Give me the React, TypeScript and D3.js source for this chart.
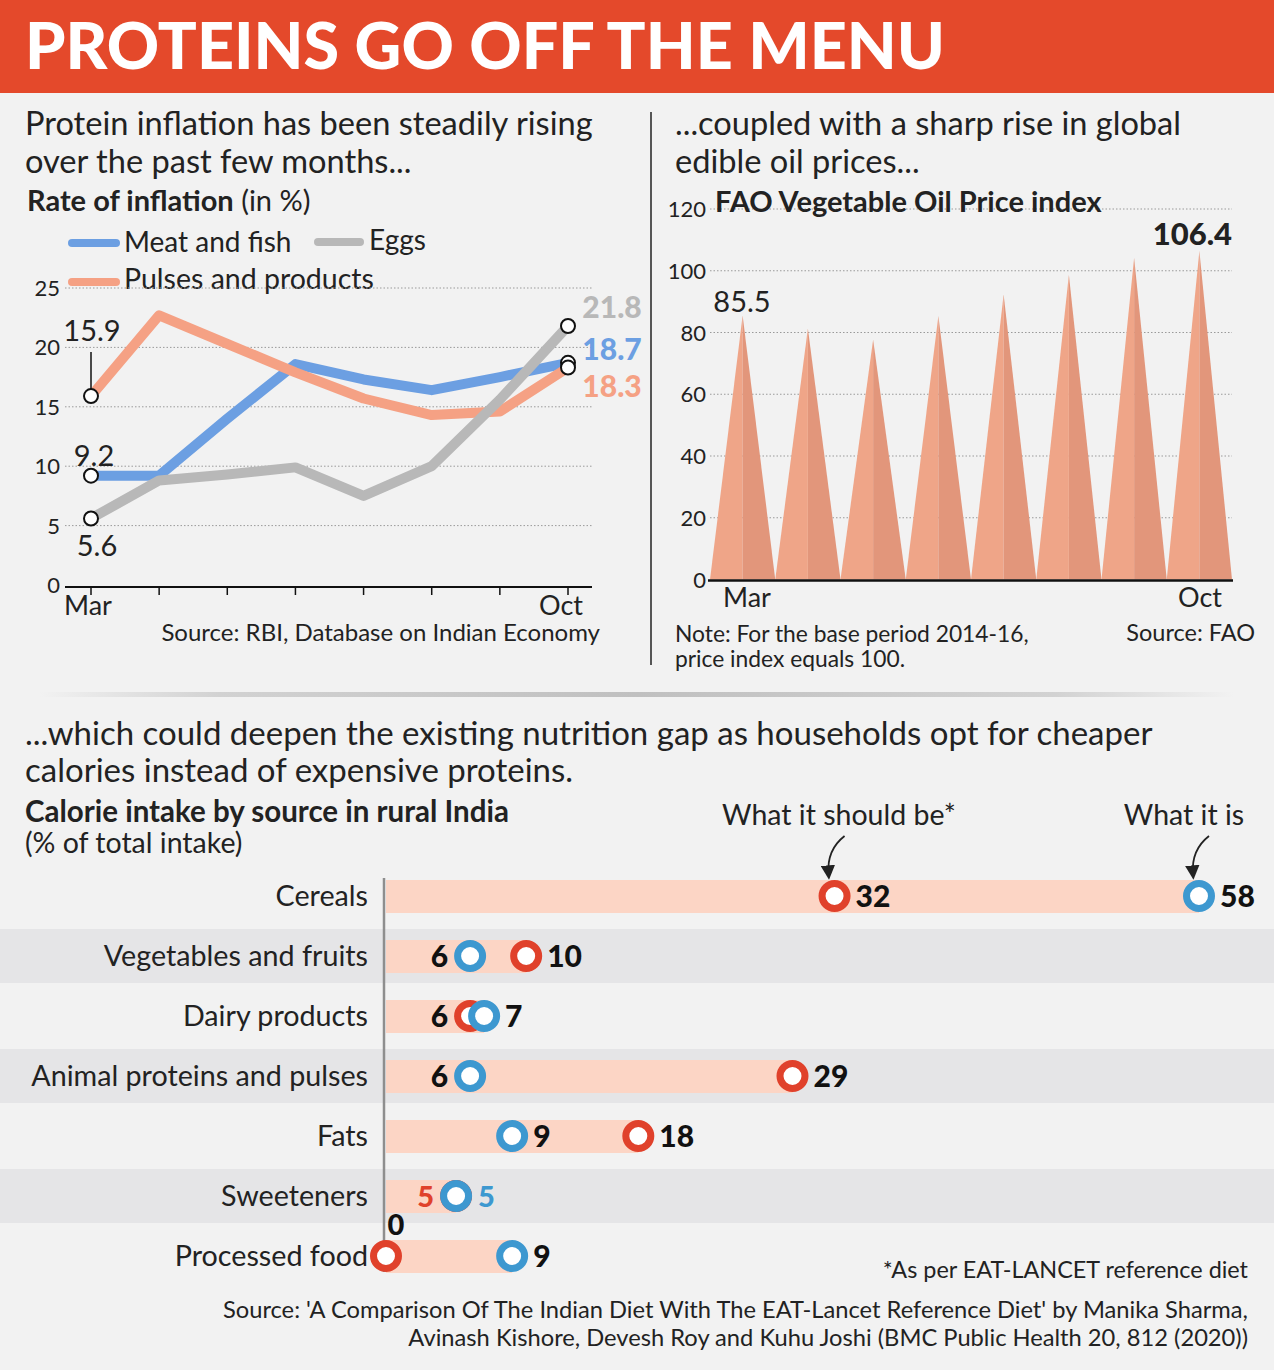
import React from "react";
import * as d3 from "d3";

// ---------- DATA ----------
const months = ["Mar", "Apr", "May", "Jun", "Jul", "Aug", "Sep", "Oct"];
const meatFish = [9.2, 9.2, 14.0, 18.6, 17.3, 16.4, 17.5, 18.7];
const pulses = [15.9, 22.7, 20.3, 17.9, 15.7, 14.3, 14.6, 18.3];
const eggs = [5.6, 8.8, 9.3, 9.9, 7.5, 10.0, 15.6, 21.8];
const inflationTicks = [0, 5, 10, 15, 20, 25];

const oilIndex = [85.5, 81.3, 77.7, 85.4, 92.3, 98.7, 104.2, 106.4];
const oilTicks = [0, 20, 40, 60, 80, 100, 120];

const foodCategories = [
  "Cereals",
  "Vegetables and fruits",
  "Dairy products",
  "Animal proteins and pulses",
  "Fats",
  "Sweeteners",
  "Processed food",
];
const shouldBe = [32, 10, 6, 29, 18, 5, 0];
const whatItIs = [58, 6, 7, 6, 9, 5, 9];

// ---------- STYLE ----------
const FONT = "Lato, 'Open Sans', sans-serif";
const BG = "#f2f2f2";
const BLUE = "#6c9fe2";
const ORANGE = "#f5a184";
const GRAY = "#b8b8b8";
const RED_DOT = "#e0412b";
const BLUE_DOT = "#3d98d0";

export default function App() {
  // ----- left line chart -----
  const xL = d3.scalePoint<string>().domain(months).range([91, 568]);
  const yL = d3.scaleLinear().domain([0, 25]).range([585, 288]);
  const line = d3
    .line<number>()
    .x((_, i) => xL(months[i]) as number)
    .y((d) => yL(d));

  // ----- right triangle chart -----
  const xR = d3.scaleBand<string>().domain(months).range([710, 1232]).padding(0);
  const yR = d3.scaleLinear().domain([0, 120]).range([579.5, 209]);

  // ----- bottom dot chart -----
  const xB = d3.scaleLinear().domain([0, 58]).range([386, 1199]);
  const yB = d3.scaleBand<string>().domain(foodCategories).range([866, 1286]);
  const rowC = (c: string) => (yB(c) as number) + yB.bandwidth() / 2;

  const series = [
    { vals: meatFish, color: BLUE },
    { vals: pulses, color: ORANGE },
    { vals: eggs, color: GRAY },
  ];

  return (
    <svg
      width={1274}
      height={1370}
      style={{ position: "absolute", left: 0, top: 0, display: "block" }}
      fontFamily={FONT}
    >
      <defs>
        <linearGradient id="sep" x1="0" x2="1" y1="0" y2="0">
          <stop offset="0" stopColor="#d0d0d0" stopOpacity="0" />
          <stop offset="0.15" stopColor="#d2d2d2" stopOpacity="1" />
          <stop offset="0.5" stopColor="#c0c0c0" stopOpacity="1" />
          <stop offset="0.85" stopColor="#d2d2d2" stopOpacity="1" />
          <stop offset="1" stopColor="#d0d0d0" stopOpacity="0" />
        </linearGradient>
        <marker id="arrow" viewBox="0 0 10 10" refX="6" refY="5" markerWidth="8" markerHeight="8" orient="auto-start-reverse">
          <path d="M0,0 L10,5 L0,10 z" fill="#222" />
        </marker>
      </defs>
      <rect x={0} y={0} width={1274} height={1370} fill={BG} />

      {/* Banner */}
      <rect x={0} y={0} width={1274} height={93} fill="#e4492b" />
      <text x={25} y={69} fill="#fff" fontSize={64} fontWeight={900} textLength={920} lengthAdjust="spacingAndGlyphs">
        PROTEINS GO OFF THE MENU
      </text>

      {/* ---------- LEFT PANEL ---------- */}
      <text x={25} y={135} fontSize={32.6} fill="#222">Protein inflation has been steadily rising</text>
      <text x={25} y={173} fontSize={32.6} fill="#222">over the past few months...</text>
      <text x={27} y={211} fontSize={29} fill="#222">
        <tspan fontWeight={700}>Rate of inflation</tspan> (in %)
      </text>
      {/* legend */}
      <line x1={72} x2={116} y1={243} y2={243} stroke={BLUE} strokeWidth={8} strokeLinecap="round" />
      <text x={124} y={252} fontSize={28} fill="#222">Meat and fish</text>
      <line x1={318} x2={360} y1={242} y2={242} stroke={GRAY} strokeWidth={8} strokeLinecap="round" />
      <text x={369} y={250} fontSize={28} fill="#222">Eggs</text>
      <line x1={72} x2={116} y1={282} y2={282} stroke={ORANGE} strokeWidth={8} strokeLinecap="round" />
      <text x={124} y={289} fontSize={28.5} fill="#222">Pulses and products</text>

      {/* grid */}
      {inflationTicks.map((t) => (
        <g key={t}>
          {t > 0 && (
            <line x1={65} x2={592} y1={yL(t)} y2={yL(t)} stroke="#9a9a9a" strokeWidth={1} strokeDasharray="1.5 2" />
          )}
          <text x={60} y={yL(t) + 8} fontSize={22} textAnchor="end" fill="#222">{t}</text>
        </g>
      ))}
      <line x1={65} x2={592} y1={yL(0) + 2} y2={yL(0) + 2} stroke="#111" strokeWidth={2} />
      {months.map((m) => (
        <line key={m} x1={xL(m)} x2={xL(m)} y1={yL(0) + 2} y2={yL(0) + 10} stroke="#111" strokeWidth={1.5} />
      ))}
      <text x={88} y={615} fontSize={27} textAnchor="middle" fill="#222">Mar</text>
      <text x={561} y={615} fontSize={27} textAnchor="middle" fill="#222">Oct</text>

      {series.map((s, i) => (
        <path key={i} d={line(s.vals) as string} fill="none" stroke={s.color} strokeWidth={10} strokeLinejoin="round" />
      ))}
      {/* annotation line for 15.9 */}
      <line x1={xL("Mar")} x2={xL("Mar")} y1={352} y2={yL(pulses[0]) - 7} stroke="#111" strokeWidth={1.5} />
      {series.map((s, i) => (
        <g key={"c" + i}>
          <circle cx={xL("Mar")} cy={yL(s.vals[0])} r={7} fill="#fff" stroke="#111" strokeWidth={2} />
          <circle cx={xL("Oct")} cy={yL(s.vals[7])} r={7} fill="#fff" stroke="#111" strokeWidth={2} />
        </g>
      ))}
      <text x={92} y={341} fontSize={29} textAnchor="middle" fill="#222">{pulses[0]}</text>
      <text x={94} y={466} fontSize={29} textAnchor="middle" fill="#222">{meatFish[0]}</text>
      <text x={97} y={556} fontSize={29} textAnchor="middle" fill="#222">{eggs[0]}</text>
      <text x={612} y={318} fontSize={30} fontWeight={900} textAnchor="middle" fill={GRAY}>{eggs[7]}</text>
      <text x={612} y={360} fontSize={30} fontWeight={900} textAnchor="middle" fill={BLUE}>{meatFish[7]}</text>
      <text x={612} y={397} fontSize={30} fontWeight={900} textAnchor="middle" fill={ORANGE}>{pulses[7]}</text>
      <text x={600} y={641} fontSize={24} textAnchor="end" fill="#222">Source: RBI, Database on Indian Economy</text>

      {/* divider */}
      <line x1={651} x2={651} y1={112} y2={665} stroke="#222" strokeWidth={1.5} />

      {/* ---------- RIGHT PANEL ---------- */}
      <text x={675} y={135} fontSize={32.6} fill="#222">...coupled with a sharp rise in global</text>
      <text x={675} y={173} fontSize={32.6} fill="#222">edible oil prices...</text>
      {oilTicks.map((t) => (
        <g key={t}>
          {t > 0 && (
            <line x1={710} x2={1232} y1={yR(t)} y2={yR(t)} stroke="#9a9a9a" strokeWidth={1} strokeDasharray="1.5 2" />
          )}
          <text x={706} y={yR(t) + 8} fontSize={22} textAnchor="end" fill="#222">{t}</text>
        </g>
      ))}
      <text x={715} y={212} fontSize={29} fontWeight={700} fill="#222">FAO Vegetable Oil Price index</text>
      {oilIndex.map((v, i) => {
        const x0 = xR(months[i]) as number;
        const w = xR.bandwidth();
        const xc = x0 + w / 2;
        const y0 = yR(0);
        const yt = yR(v);
        return (
          <g key={i}>
            <path d={`M${x0},${y0} L${xc},${yt} L${xc},${y0} Z`} fill="#efa588" />
            <path d={`M${xc},${yt} L${x0 + w},${y0} L${xc},${y0} Z`} fill="#e2967b" />
          </g>
        );
      })}
      <line x1={708} x2={1233} y1={yR(0) + 1} y2={yR(0) + 1} stroke="#111" strokeWidth={2.5} />
      <text x={742} y={312} fontSize={29} textAnchor="middle" fill="#222">{oilIndex[0]}</text>
      <text x={1232} y={245} fontSize={31} fontWeight={900} textAnchor="end" fill="#222">{oilIndex[7]}</text>
      <text x={747} y={607} fontSize={27} textAnchor="middle" fill="#222">Mar</text>
      <text x={1200} y={607} fontSize={27} textAnchor="middle" fill="#222">Oct</text>
      <text x={675} y={642} fontSize={22.8} fill="#222">Note: For the base period 2014-16,</text>
      <text x={675} y={667} fontSize={22.8} fill="#222">price index equals 100.</text>
      <text x={1255} y={641} fontSize={23.5} textAnchor="end" fill="#222">Source: FAO</text>

      {/* separator */}
      <rect x={40} y={692} width={1194} height={5} fill="url(#sep)" />

      {/* ---------- BOTTOM PANEL ---------- */}
      <text x={25} y={745} fontSize={33} fill="#222">...which could deepen the existing nutrition gap as households opt for cheaper</text>
      <text x={25} y={782} fontSize={33} fill="#222">calories instead of expensive proteins.</text>
      <text x={25} y={822} fontSize={29.5} fontWeight={700} fill="#222">Calorie intake by source in rural India</text>
      <text x={25} y={853} fontSize={28.5} fill="#222">(% of total intake)</text>
      <text x={839} y={825} fontSize={28.5} textAnchor="middle" fill="#222">What it should be*</text>
      <text x={1184} y={825} fontSize={28.5} textAnchor="middle" fill="#222">What it is</text>
      <path d={`M${xB(32) + 10},${836} Q${xB(32) - 8},${850} ${xB(32) - 6},${874}`} fill="none" stroke="#222" strokeWidth={1.8} markerEnd="url(#arrow)" />
      <path d={`M${xB(58) + 10},${836} Q${xB(58) - 8},${850} ${xB(58) - 6},${874}`} fill="none" stroke="#222" strokeWidth={1.8} markerEnd="url(#arrow)" />

      {foodCategories.map((c, i) =>
        i % 2 === 1 ? <rect key={"bg" + c} x={0} width={1274} y={rowC(c) - 27} height={54} fill="#e5e5e7" /> : null
      )}
      {foodCategories.map((c, i) => (
        <g key={c}>
          <rect x={xB(0)} y={rowC(c) - 16} width={xB(Math.max(shouldBe[i], whatItIs[i])) - xB(0)} height={33} fill="#fcd5c5" />
          <text x={368} y={rowC(c) + 10} fontSize={28.7} textAnchor="end" fill="#222">{c}</text>
        </g>
      ))}
      <line x1={384} x2={384} y1={878} y2={1272} stroke="#8e8e8e" strokeWidth={2.5} />
      {foodCategories.map((c, i) => {
        const cy = rowC(c);
        const s = shouldBe[i];
        const a = whatItIs[i];
        const big = Math.max(s, a);
        const labelFor = (v: number, key: string) => {
          if (s === a) {
            const left = key === "s";
            return (
              <text key={key} x={left ? xB(v) - 22 : xB(v) + 22} y={cy + 11} fontSize={29} fontWeight={900}
                textAnchor={left ? "end" : "start"} fill={left ? RED_DOT : BLUE_DOT}>{v}</text>
            );
          }
          if (v === 0) {
            return (
              <text key={key} x={xB(v) + 10} y={cy - 21} fontSize={29} fontWeight={900} textAnchor="middle" fill="#111">{v}</text>
            );
          }
          const right = v === big || v > 8;
          return (
            <text key={key} x={right ? xB(v) + 21 : xB(v) - 22} y={cy + 11} fontSize={30} fontWeight={900}
              textAnchor={right ? "start" : "end"} fill="#111">{v}</text>
          );
        };
        return (
          <g key={"d" + c}>
            <circle cx={xB(s)} cy={cy} r={12.5} fill="#fff" stroke={RED_DOT} strokeWidth={7} />
            <circle cx={xB(a)} cy={cy} r={12.5} fill="#fff" stroke={BLUE_DOT} strokeWidth={7} />
            {labelFor(s, "s")}
            {labelFor(a, "a")}
          </g>
        );
      })}
      <text x={1248} y={1278} fontSize={23.4} textAnchor="end" fill="#222">*As per EAT-LANCET reference diet</text>
      <text x={1248} y={1318} fontSize={23.7} textAnchor="end" fill="#222">
        Source: 'A Comparison Of The Indian Diet With The EAT-Lancet Reference Diet' by Manika Sharma,
      </text>
      <text x={1248} y={1346} fontSize={23.7} textAnchor="end" fill="#222">
        Avinash Kishore, Devesh Roy and Kuhu Joshi (BMC Public Health 20, 812 (2020))
      </text>
    </svg>
  );
}
